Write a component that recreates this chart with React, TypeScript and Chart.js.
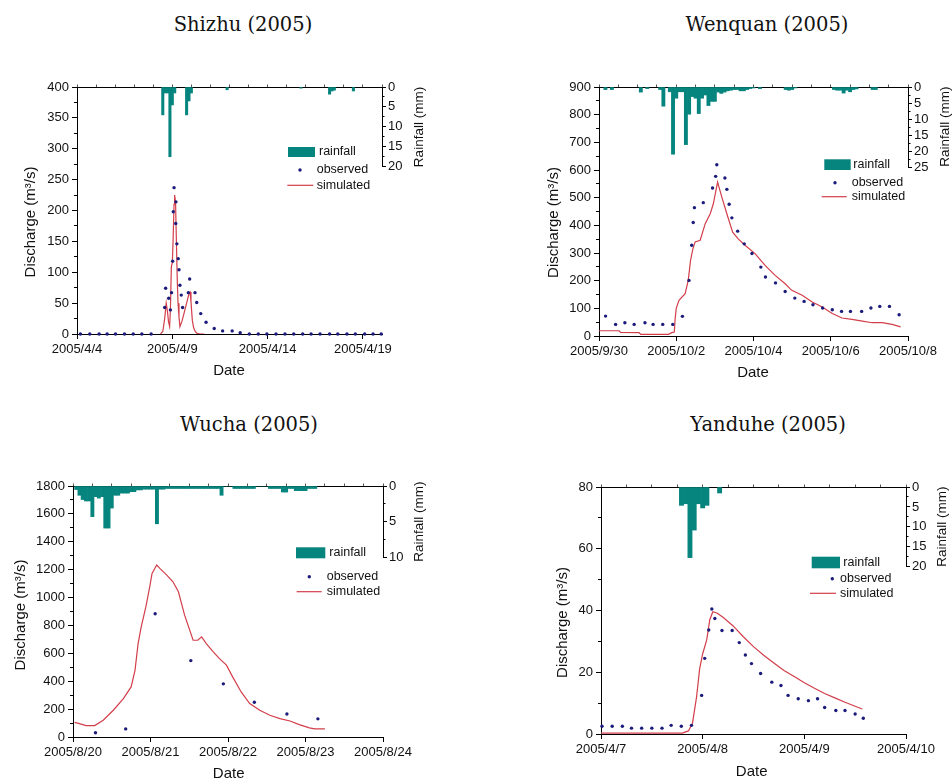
import React, { useEffect, useRef } from 'react';
import { Chart, registerables } from 'chart.js';

Chart.register(...registerables);

const SANS = "'Liberation Sans', Arial, Helvetica, sans-serif";
const TEAL = '#06847e';
const NAVY = '#1b1b7c';
const RED = '#d23e4a';
const INK = '#111';

// ---------------- Shizhu (2005) ----------------
const shizhuTickDays = [0, 5, 10, 15];
const shizhuTickLabels = ['2005/4/4', '2005/4/9', '2005/4/14', '2005/4/19'];
const shizhuObsDays = [0.18, 0.67, 1.16, 1.58, 2.02, 2.49, 2.95, 3.4, 3.89, 4.6, 4.65, 4.81, 4.9, 4.96, 5.02, 5.05, 5.09, 5.19, 5.18, 5.24, 5.31, 5.35, 5.4, 5.47, 5.54, 5.84, 5.91, 6.19, 6.28, 6.49, 6.77, 7.2, 7.64, 8.14, 8.56, 9.04, 9.51, 9.96, 10.44, 10.91, 11.37, 11.84, 12.28, 12.75, 13.25, 13.68, 14.16, 14.6, 15.09, 15.53, 15.96];
const shizhuObsQ = [0, 0, 0, 0, 0, 0, 0, 0, 0, 43, 74, 58, 39, 67, 118, 198, 237, 214, 179, 146, 122, 104, 79, 63, 43, 67, 89, 67, 51, 33, 19, 9, 5, 5, 2, 0, 0, 0, 0, 0, 0, 0, 0, 0, 0, 0, 0, 0, 0, 0, 0];
const shizhuSimDays = [4.38, 4.5, 4.6, 4.68, 4.74, 4.8, 4.86, 4.9, 4.95, 5.0, 5.04, 5.09, 5.12, 5.17, 5.2, 5.26, 5.3, 5.35, 5.4, 5.5, 5.61, 5.75, 5.88, 5.93, 5.98, 6.05, 6.12, 6.2, 6.3, 6.45, 6.67];
const shizhuSimQ = [0, 4, 25, 50, 38, 20, 12, 40, 109, 115, 150, 210, 225, 214, 170, 87, 50, 28, 12, 20, 33, 50, 66, 68, 52, 22, 10, 4, 1, 0, 0];
const shizhuRainHours = [108, 111, 114, 117, 120, 123, 138, 141, 144, 189, 282, 318, 321, 324, 348];
const shizhuRainMm = [7, 1.5, 1.5, 17.5, 4.5, 1.5, 7, 3.5, 1.5, 0.7, 0.3, 1.8, 1.0, 0.8, 1.0];
const shizhuRainTicks = [0, 5, 10, 15, 20];

// ---------------- Wenquan (2005) ----------------
const wenquanTickDays = [0, 2, 4, 6, 8];
const wenquanTickLabels = ['2005/9/30', '2005/10/2', '2005/10/4', '2005/10/6', '2005/10/8'];
const wenquanObsDays = [0.17, 0.43, 0.67, 0.91, 1.19, 1.4, 1.65, 1.91, 2.16, 2.33, 2.4, 2.44, 2.47, 2.7, 2.94, 3.02, 3.05, 3.26, 3.31, 3.37, 3.44, 3.59, 3.76, 3.96, 4.19, 4.31, 4.57, 4.82, 5.07, 5.31, 5.54, 5.79, 6.04, 6.28, 6.51, 6.8, 7.04, 7.27, 7.52, 7.77];
const wenquanObsQ = [72, 42, 48, 42, 48, 42, 42, 42, 71, 201, 328, 410, 464, 482, 535, 577, 619, 571, 530, 476, 427, 379, 333, 298, 249, 213, 192, 161, 137, 125, 113, 101, 95, 89, 89, 89, 101, 107, 107, 77];
const wenquanSimDays = [0, 0.52, 0.56, 1.04, 1.08, 1.8, 1.88, 1.95, 1.97, 2.0, 2.07, 2.23, 2.31, 2.37, 2.43, 2.49, 2.62, 2.75, 2.88, 2.96, 3.07, 3.18, 3.31, 3.46, 3.61, 3.78, 4.04, 4.3, 4.56, 4.82, 4.99, 5.26, 5.52, 5.78, 6.04, 6.29, 6.55, 6.82, 7.07, 7.33, 7.59, 7.81];
const wenquanSimQ = [19, 19, 13, 12, 6, 6, 12, 14, 60, 100, 129, 153, 201, 273, 315, 340, 346, 406, 442, 478, 556, 502, 442, 375, 350, 328, 298, 255, 219, 189, 165, 147, 123, 105, 81, 65, 60, 54, 48, 48, 42, 33];
const wenquanRainHours = [4, 8, 26, 30, 38, 40, 44, 46, 48, 50, 52, 54, 56, 58, 60, 62, 64, 66, 68, 70, 72, 74, 76, 78, 80, 82, 84, 86, 88, 90, 92, 94, 96, 100, 116, 118, 120, 122, 146, 148, 150, 152, 154, 156, 158, 160, 170, 172];
const wenquanRainMm = [0.8, 0.8, 1.6, 0.5, 0.8, 6, 1.5, 21, 3.5, 1.5, 1.5, 18, 8.5, 3, 3.5, 8.3, 3.5, 2.5, 5.8, 4.5, 4.5, 1.6, 2, 1.6, 1.2, 1.0, 0.8, 0.8, 1.2, 1.2, 0.8, 0.5, 0.3, 0.5, 0.8, 1.0, 0.8, 0.3, 0.8, 1.0, 1.0, 1.9, 1.0, 1.5, 0.8, 0.6, 0.8, 0.8];
const wenquanRainTicks = [0, 5, 10, 15, 20, 25];

// ---------------- Wucha (2005) ----------------
const wuchaTickDays = [0, 1, 2, 3, 4];
const wuchaTickLabels = ['2005/8/20', '2005/8/21', '2005/8/22', '2005/8/23', '2005/8/24'];
const wuchaObsDays = [0.29, 0.68, 1.06, 1.52, 1.94, 2.34, 2.76, 3.16];
const wuchaObsQ = [31, 58, 884, 548, 381, 249, 165, 130];
const wuchaSimDays = [0.02, 0.06, 0.17, 0.28, 0.39, 0.52, 0.65, 0.75, 0.8, 0.84, 0.88, 0.94, 0.99, 1.02, 1.08, 1.12, 1.21, 1.29, 1.36, 1.44, 1.55, 1.61, 1.66, 1.72, 1.81, 1.89, 1.98, 2.06, 2.17, 2.28, 2.41, 2.54, 2.67, 2.8, 2.92, 3.05, 3.12, 3.25];
const wuchaSimQ = [105, 100, 82, 82, 120, 192, 275, 359, 478, 670, 790, 933, 1077, 1173, 1233, 1209, 1161, 1113, 1041, 874, 694, 694, 718, 670, 610, 562, 515, 431, 323, 240, 192, 156, 132, 115, 89, 65, 58, 58];
const wuchaRainFirstHour = 1;
const wuchaRainMm = [
  0.5, 1.3, 1.9, 2.1, 2.1, 4.3, 1.5, 1.7, 1.5, 5.9,
  5.9, 3.1, 1.3, 1.3, 1.0, 1.0, 1.0, 0.8, 0.8, 0.55,
  0.55, 0.45, 0.45, 0.45, 0.45, 5.3, 0.45, 0.45, 0.35, 0.35,
  0.35, 0.35, 0.35, 0.35, 0.35, 0.35, 0.35, 0.35, 0.35, 0.35,
  0.35, 0.35, 0.35, 0.35, 0.35, 1.3, 0, 0, 0, 0.35,
  0.35, 0.35, 0.35, 0.35, 0.35, 0.35, 0, 0, 0, 0,
  0.35, 0.35, 0.35, 0.35, 0.85, 0.85, 0.35, 0.35, 0.65, 0.65,
  0.65, 0.65, 0.35, 0.35, 0.35,
];
const wuchaRainTicks = [0, 5, 10];

// ---------------- Yanduhe (2005) ----------------
const yanduheTickDays = [0, 1, 2, 3];
const yanduheTickLabels = ['2005/4/7', '2005/4/8', '2005/4/9', '2005/4/10'];
const yanduheObsDays = [0.01, 0.11, 0.21, 0.3, 0.4, 0.5, 0.6, 0.69, 0.79, 0.89, 0.99, 1.02, 1.06, 1.09, 1.12, 1.19, 1.29, 1.36, 1.42, 1.48, 1.57, 1.68, 1.77, 1.84, 1.94, 2.04, 2.13, 2.2, 2.31, 2.4, 2.5, 2.58];
const yanduheObsQ = [2.5, 2.5, 2.5, 1.9, 1.9, 1.9, 1.9, 2.8, 2.5, 2.8, 12.5, 24.5, 33.7, 40.5, 37.4, 33.5, 33.5, 29.6, 25.6, 22.8, 19.6, 16.8, 15.7, 12.5, 11.4, 10.8, 11.4, 8.6, 7.6, 7.6, 6.5, 5.1];
const yanduheSimDays = [0, 0.8, 0.86, 0.9, 0.94, 0.97, 1.0, 1.04, 1.07, 1.1, 1.14, 1.2, 1.3, 1.4, 1.5, 1.6, 1.7, 1.8, 1.9, 2.0, 2.1, 2.2, 2.3, 2.4, 2.5, 2.57];
const yanduheSimQ = [0.3, 0.3, 1, 3.5, 12, 21, 26, 30.5, 37, 39.6, 39.2, 37.8, 35, 31.5, 28.3, 25.5, 23, 20.6, 18.6, 16.6, 14.8, 13.1, 11.7, 10.3, 9.0, 8.1];
const yanduheRainHours = [19, 20, 21, 22, 23, 24, 25, 28];
const yanduheRainMm = [4.6, 4.2, 17.7, 10.8, 4.2, 5.25, 4.6, 1.5];
const yanduheRainTicks = [0, 5, 10, 15, 20];

type Pt = [number, number];
type PanelSpec = {
  id: string;
  title: string;
  titlePos: Pt;
  canvas: { x: number; y: number; w: number; h: number };
  area: { l: number; t: number; r: number; b: number };
  xMax: number;
  xTicks: number[];
  xLabels: string[];
  topStep: number;
  yMax: number;
  yStep: number;
  rMax: number;
  rTicks: number[];
  obsX: number[];
  obsY: number[];
  simX: number[];
  simY: number[];
  rainX: number[];
  rainY: number[];
  discharge: Pt;
  date: Pt;
  rainTitle: Pt;
  legBox: [number, number, number, number];
  legRainText: Pt;
  legDot: Pt;
  legObsText: Pt;
  legLine: [number, number, number];
  legSimText: Pt;
};

const panels: PanelSpec[] = [
  {
    id: 'shizhu',
    title: 'Shizhu (2005)',
    titlePos: [243, 25],
    canvas: { x: 0, y: 60, w: 476, h: 330 },
    area: { l: 77, t: 87, r: 382, b: 334 },
    xMax: 16,
    xTicks: shizhuTickDays,
    xLabels: shizhuTickLabels,
    topStep: 1,
    yMax: 400,
    yStep: 50,
    rMax: 62,
    rTicks: shizhuRainTicks,
    obsX: shizhuObsDays,
    obsY: shizhuObsQ,
    simX: shizhuSimDays,
    simY: shizhuSimQ,
    rainX: shizhuRainHours.map((h) => h / 24),
    rainY: shizhuRainMm,
    discharge: [31, 222],
    date: [229, 371],
    rainTitle: [419, 127],
    legBox: [288, 147, 315, 157],
    legRainText: [319, 152],
    legDot: [300, 170],
    legObsText: [316.7, 170],
    legLine: [287.3, 313.3, 185.3],
    legSimText: [316.7, 185.3],
  },
  {
    id: 'wenquan',
    title: 'Wenquan (2005)',
    titlePos: [767, 25],
    canvas: { x: 476, y: 60, w: 476, h: 330 },
    area: { l: 599, t: 87, r: 908, b: 336 },
    xMax: 8,
    xTicks: wenquanTickDays,
    xLabels: wenquanTickLabels,
    topStep: 0.5,
    yMax: 900,
    yStep: 100,
    rMax: 77.8,
    rTicks: wenquanRainTicks,
    obsX: wenquanObsDays,
    obsY: wenquanObsQ,
    simX: wenquanSimDays,
    simY: wenquanSimQ,
    rainX: wenquanRainHours.map((h) => h / 24),
    rainY: wenquanRainMm,
    discharge: [554, 222.5],
    date: [753, 372.7],
    rainTitle: [945.5, 126.7],
    legBox: [824.3, 159.3, 850.7, 170],
    legRainText: [853.3, 164.7],
    legDot: [835, 182.7],
    legObsText: [851.7, 182.7],
    legLine: [821.7, 846.7, 196.7],
    legSimText: [851.7, 196.7],
  },
  {
    id: 'wucha',
    title: 'Wucha (2005)',
    titlePos: [249, 425],
    canvas: { x: 0, y: 460, w: 476, h: 324 },
    area: { l: 73, t: 486, r: 383, b: 737 },
    xMax: 4,
    xTicks: wuchaTickDays,
    xLabels: wuchaTickLabels,
    topStep: 0.25,
    yMax: 1800,
    yStep: 200,
    rMax: 35.2,
    rTicks: wuchaRainTicks,
    obsX: wuchaObsDays,
    obsY: wuchaObsQ,
    simX: wuchaSimDays,
    simY: wuchaSimQ,
    rainX: wuchaRainMm.map((_, i) => (wuchaRainFirstHour + i) / 24),
    rainY: wuchaRainMm,
    discharge: [21, 615],
    date: [228.7, 774.3],
    rainTitle: [419, 521.7],
    legBox: [296, 547.3, 325.3, 558.3],
    legRainText: [329.3, 553],
    legDot: [309.3, 576.7],
    legObsText: [326.7, 576.7],
    legLine: [296.7, 321.7, 591.7],
    legSimText: [326.7, 591.7],
  },
  {
    id: 'yanduhe',
    title: 'Yanduhe (2005)',
    titlePos: [768, 425],
    canvas: { x: 476, y: 460, w: 476, h: 324 },
    area: { l: 601, t: 487, r: 906, b: 734 },
    xMax: 3,
    xTicks: yanduheTickDays,
    xLabels: yanduheTickLabels,
    topStep: 0.25,
    yMax: 80,
    yStep: 20,
    rMax: 61.9,
    rTicks: yanduheRainTicks,
    obsX: yanduheObsDays,
    obsY: yanduheObsQ,
    simX: yanduheSimDays,
    simY: yanduheSimQ,
    rainX: yanduheRainHours.map((h) => h / 24),
    rainY: yanduheRainMm,
    discharge: [563, 622.5],
    date: [751.7, 771.7],
    rainTitle: [942.5, 526.7],
    legBox: [811.7, 556.7, 840, 568.3],
    legRainText: [843.3, 562.5],
    legDot: [832.3, 578.7],
    legObsText: [840, 578.7],
    legLine: [810, 836, 593.3],
    legSimText: [840, 593.3],
  },
];

const al = (v: number) => Math.round(v - 0.5) + 0.5;

function buildChart(canvas: HTMLCanvasElement, p: PanelSpec) {
  const ox = p.canvas.x;
  const oy = p.canvas.y;
  const padL = p.area.l - ox;
  const padT = p.area.t - oy;
  const padR = ox + p.canvas.w - p.area.r;
  const padB = oy + p.canvas.h - p.area.b;
  const tickFont = { family: SANS, size: 13 };
  const plain = (v: any) => String(v);

  const extras = {
    id: 'extras_' + p.id,
    afterDraw(chart: any) {
      const ctx = chart.ctx as CanvasRenderingContext2D;
      const a = chart.chartArea;
      const ys = chart.scales.y;
      const rs = chart.scales.y2;
      ctx.save();
      ctx.strokeStyle = '#000';
      ctx.lineWidth = 1;
      ctx.beginPath();
      const yv = ys.ticks.map((t: any) => t.value);
      for (let i = 0; i < yv.length - 1; i++) {
        const py = al(ys.getPixelForValue((yv[i] + yv[i + 1]) / 2));
        ctx.moveTo(a.left - 3, py);
        ctx.lineTo(a.left, py);
      }
      const rv = rs.ticks.map((t: any) => t.value);
      for (let i = 0; i < rv.length - 1; i++) {
        const py = al(rs.getPixelForValue((rv[i] + rv[i + 1]) / 2));
        ctx.moveTo(a.right, py);
        ctx.lineTo(a.right + 2.5, py);
      }
      const xr = al(a.right);
      ctx.moveTo(xr, a.top);
      ctx.lineTo(xr, al(rs.getPixelForValue(rv[rv.length - 1])));
      ctx.stroke();

      // axis titles
      ctx.fillStyle = INK;
      ctx.textAlign = 'center';
      ctx.textBaseline = 'middle';
      ctx.font = `15px ${SANS}`;
      ctx.fillText('Date', p.date[0] - ox, p.date[1] - oy);
      ctx.save();
      ctx.translate(p.discharge[0] - ox, p.discharge[1] - oy);
      ctx.rotate(-Math.PI / 2);
      ctx.fillText('Discharge (m³/s)', 0, 0);
      ctx.restore();
      ctx.save();
      ctx.font = `13.5px ${SANS}`;
      ctx.translate(p.rainTitle[0] - ox, p.rainTitle[1] - oy);
      ctx.rotate(-Math.PI / 2);
      ctx.fillText('Rainfall (mm)', 0, 0);
      ctx.restore();

      // legend
      const ds = chart.data.datasets;
      const rainDs = ds.find((d: any) => d.label === 'rainfall');
      const obsDs = ds.find((d: any) => d.label === 'observed');
      const simDs = ds.find((d: any) => d.label === 'simulated');
      const [bx0, by0, bx1, by1] = p.legBox;
      ctx.fillStyle = rainDs.backgroundColor;
      ctx.fillRect(bx0 - ox, by0 - oy, bx1 - bx0, by1 - by0);
      ctx.fillStyle = obsDs.pointBackgroundColor;
      ctx.beginPath();
      ctx.arc(p.legDot[0] - ox, p.legDot[1] - oy, 1.7, 0, Math.PI * 2);
      ctx.fill();
      ctx.strokeStyle = simDs.borderColor;
      ctx.lineWidth = 1.2;
      ctx.beginPath();
      ctx.moveTo(p.legLine[0] - ox, p.legLine[2] - oy);
      ctx.lineTo(p.legLine[1] - ox, p.legLine[2] - oy);
      ctx.stroke();
      ctx.fillStyle = INK;
      ctx.textAlign = 'left';
      ctx.font = `12.5px ${SANS}`;
      ctx.fillText(rainDs.label, p.legRainText[0] - ox, p.legRainText[1] - oy);
      ctx.fillText(obsDs.label, p.legObsText[0] - ox, p.legObsText[1] - oy);
      ctx.fillText(simDs.label, p.legSimText[0] - ox, p.legSimText[1] - oy);
      ctx.restore();
    },
  };

  const config: any = {
    type: 'bar',
    data: {
      datasets: [
        {
          type: 'line',
          label: 'observed',
          data: p.obsX.map((x, i) => ({ x, y: p.obsY[i] })),
          showLine: false,
          pointRadius: 1.7,
          pointBorderWidth: 0,
          pointBackgroundColor: NAVY,
          borderColor: NAVY,
          xAxisID: 'x',
          yAxisID: 'y',
          order: 1,
          clip: 4,
        },
        {
          type: 'line',
          label: 'simulated',
          data: p.simX.map((x, i) => ({ x, y: p.simY[i] })),
          borderColor: RED,
          borderWidth: 1.2,
          pointRadius: 0,
          tension: 0,
          fill: false,
          xAxisID: 'x',
          yAxisID: 'y',
          order: 2,
        },
        {
          type: 'bar',
          label: 'rainfall',
          data: p.rainX.map((x, i) => ({ x, y: p.rainY[i] })),
          backgroundColor: TEAL,
          borderWidth: 0,
          barPercentage: 1,
          categoryPercentage: 1,
          xAxisID: 'x',
          yAxisID: 'y2',
          order: 3,
        },
      ],
    },
    options: {
      responsive: false,
      animation: false,
      events: [],
      layout: { padding: 0 },
      plugins: { legend: { display: false }, tooltip: { enabled: false }, title: { display: false } },
      scales: {
        x: {
          type: 'linear',
          position: 'bottom',
          min: 0,
          max: p.xMax,
          offset: false,
          afterBuildTicks: (s: any) => {
            s.ticks = p.xTicks.map((v) => ({ value: v }));
          },
          ticks: {
            autoSkip: false,
            maxRotation: 0,
            minRotation: 0,
            padding: 3,
            color: INK,
            font: tickFont,
            callback: (_v: any, i: number) => p.xLabels[i],
          },
          grid: { drawOnChartArea: false, tickLength: 5, color: '#000', offset: false },
          border: { color: '#000', width: 1 },
          afterFit: (s: any) => {
            s.height = padB;
          },
        },
        x2: {
          type: 'linear',
          position: 'top',
          min: 0,
          max: p.xMax,
          offset: false,
          ticks: { display: false, stepSize: p.topStep, maxTicksLimit: 200 },
          grid: { drawOnChartArea: false, tickLength: 2.5, color: '#555', offset: false },
          border: { color: '#000', width: 1 },
          afterFit: (s: any) => {
            s.height = padT;
          },
        },
        y: {
          type: 'linear',
          position: 'left',
          min: 0,
          max: p.yMax,
          ticks: { stepSize: p.yStep, padding: 3, color: INK, font: tickFont, callback: plain },
          grid: { drawOnChartArea: false, tickLength: 5, color: '#000' },
          border: { color: '#000', width: 1 },
          afterFit: (s: any) => {
            s.width = padL;
          },
        },
        y2: {
          type: 'linear',
          position: 'right',
          min: 0,
          max: p.rMax,
          reverse: true,
          afterBuildTicks: (s: any) => {
            s.ticks = p.rTicks.map((v) => ({ value: v }));
          },
          ticks: { padding: 2, color: INK, font: tickFont, callback: plain },
          grid: { drawOnChartArea: false, tickLength: 4, color: '#000' },
          border: { display: false },
          afterFit: (s: any) => {
            s.width = padR;
          },
        },
      },
    },
    plugins: [extras],
  };
  return new Chart(canvas, config);
}

function Panel({ p }: { p: PanelSpec }) {
  const ref = useRef<HTMLCanvasElement>(null);
  useEffect(() => {
    if (!ref.current) return;
    const chart = buildChart(ref.current, p);
    return () => chart.destroy();
  }, [p]);
  return (
    <>
      <div
        style={{
          position: 'absolute',
          left: p.titlePos[0] - 150,
          top: p.titlePos[1] - 12,
          width: 300,
          height: 24,
          lineHeight: '24px',
          textAlign: 'center',
          fontFamily: "'DejaVu Serif', 'Liberation Serif', serif",
          fontSize: 19.5,
          color: '#111',
        }}
      >
        {p.title}
      </div>
      <canvas
        ref={ref}
        width={p.canvas.w}
        height={p.canvas.h}
        style={{
          position: 'absolute',
          left: p.canvas.x,
          top: p.canvas.y,
          width: p.canvas.w,
          height: p.canvas.h,
        }}
      />
    </>
  );
}

export default function App() {
  return (
    <div
      style={{
        position: 'fixed',
        left: 0,
        top: 0,
        width: 952,
        height: 784,
        background: '#fff',
        overflow: 'hidden',
      }}
    >
      {panels.map((p) => (
        <Panel key={p.id} p={p} />
      ))}
    </div>
  );
}
